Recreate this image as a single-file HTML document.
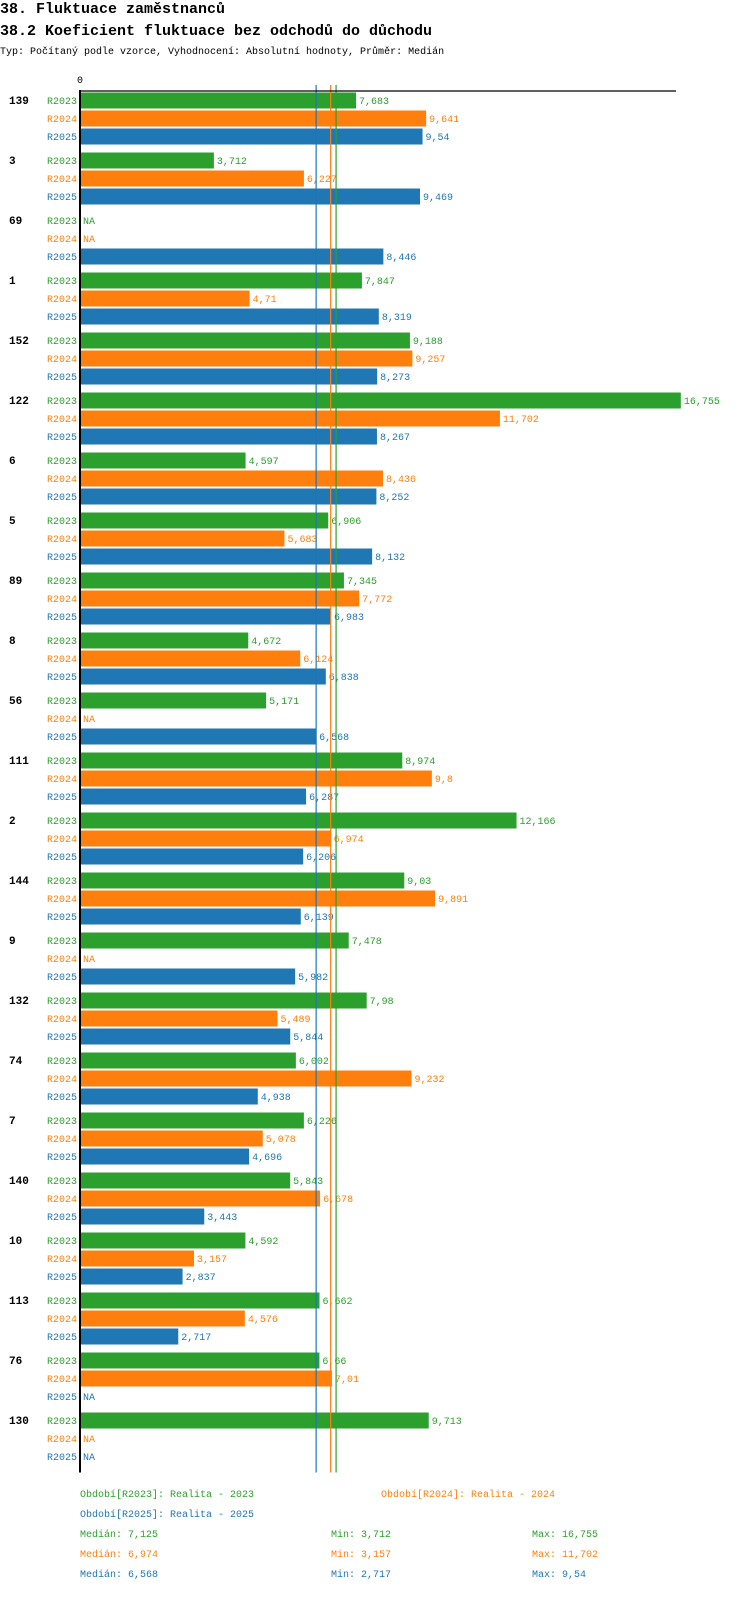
<!DOCTYPE html>
<html><head><meta charset="utf-8"><style>
body{margin:0;background:#fff;width:750px;height:1592px;overflow:hidden}
svg text{font-family:"Liberation Mono","DejaVu Sans Mono",monospace}
</style></head><body>
<svg id="c" width="750" height="1592">
<text x="0" y="13" font-size="15" font-weight="bold">38. Fluktuace zaměstnanců</text>
<text x="0" y="35" font-size="15" font-weight="bold" textLength="432">38.2 Koeficient fluktuace bez odchodů do důchodu</text>
<text x="0" y="54" font-size="10">Typ: Počítaný podle vzorce, Vyhodnocení: Absolutní hodnoty, Průměr: Medián</text>
</svg>
<script>
const groups=["139","3","69","1","152","122","6","5","89","8","56","111","2","144","9","132","74","7","140","10","113","76","130"];
const seriesNames=["R2023","R2024","R2025"];
const r2023=[7.683,3.712,null,7.847,9.188,16.755,4.597,6.906,7.345,4.672,5.171,8.974,12.166,9.03,7.478,7.98,6.002,6.226,5.843,4.592,6.662,6.66,9.713];
const r2024=[9.641,6.227,null,4.71,9.257,11.702,8.436,5.683,7.772,6.124,null,9.8,6.974,9.891,null,5.489,9.232,5.078,6.678,3.157,4.576,7.01,null];
const r2025=[9.54,9.469,8.446,8.319,8.273,8.267,8.252,8.132,6.983,6.838,6.568,6.287,6.206,6.139,5.982,5.844,4.938,4.696,3.443,2.837,2.717,null,null];
const medians=[7.125,6.974,6.568];
const mins=[3.712,3.157,2.717];
const maxs=[16.755,11.702,9.54];
const legendText=["Období[R2023]: Realita - 2023","Období[R2024]: Realita - 2024","Období[R2025]: Realita - 2025"];
const colors=["#2ca02c","#ff7f0e","#1f77b4"];
const X0=81,SCALE=35.8,TOP0=92.5,GP=60,RP=18,BH=16;
const xs=v=>X0+v*SCALE;
const svgEl=document.getElementById('c');
const NS='http://www.w3.org/2000/svg';
function mk(tag,attrs,txt){const e=document.createElementNS(NS,tag);for(const k in attrs)e.setAttribute(k,attrs[k]);if(txt!=null)e.textContent=txt;svgEl.appendChild(e);return e;}
const fmt=v=>String(v).replace('.',',');
const seriesData=[r2023,r2024,r2025];
const axisBottom=TOP0+groups.length*GP;
groups.forEach((g,i)=>{
  const gy=TOP0+i*GP;
  let t=mk('text',{x:9,y:gy+11.5,'font-size':11,'font-weight':'bold'},g);
  
  
  seriesData.forEach((arr,s)=>{
    const y=gy+s*RP;const v=arr[i];
    let l=mk('text',{x:77,y:y+11.5,'font-size':10,fill:colors[s],'text-anchor':'end'},seriesNames[s]);
    
    
    if(v==null){
      let n=mk('text',{x:83,y:y+11.5,'font-size':10,fill:colors[s]},'NA');
      
      
    }else{
      let b=mk('rect',{x:X0,y:y,width:xs(v)-X0,height:BH,fill:colors[s]});
      
      
      let vl=mk('text',{x:xs(v)+3,y:y+11.5,'font-size':10,fill:colors[s]},fmt(v));
      
      
    }
  });
});
medians.forEach((m,s)=>{
  let ml=mk('line',{x1:xs(m),x2:xs(m),y1:85,y2:axisBottom,stroke:colors[s],'stroke-width':1.2});
  
  
});
let yAxis=mk('line',{x1:X0-1,x2:X0-1,y1:90,y2:axisBottom,stroke:'#000','stroke-width':2});


let xAxis=mk('line',{x1:X0-2,x2:676,y1:91,y2:91,stroke:'#000','stroke-width':1.2});


let zeroTick=mk('text',{x:77,y:83,'font-size':10},'0');


const lpos=[[80,1497],[381,1497],[80,1517]];
legendText.forEach((t,s)=>{
  let e=mk('text',{x:lpos[s][0],y:lpos[s][1],'font-size':10,fill:colors[s]},t);
  
  
});
[0,1,2].forEach(s=>{
  const y=1537+s*20;
  let a=mk('text',{x:80,y:y,'font-size':10,fill:colors[s]},'Medián: '+fmt(medians[s]));
  
  
  let b=mk('text',{x:331,y:y,'font-size':10,fill:colors[s]},'Min: '+fmt(mins[s]));
  
  
  let c=mk('text',{x:532,y:y,'font-size':10,fill:colors[s]},'Max: '+fmt(maxs[s]));
  
  
});
</script>
</body></html>
